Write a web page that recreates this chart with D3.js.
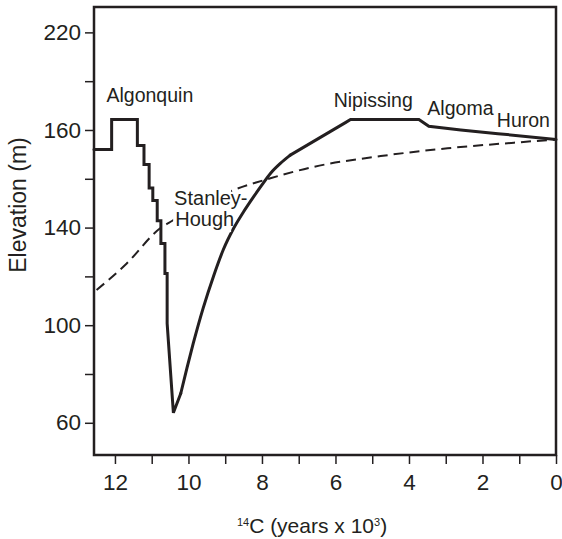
<!DOCTYPE html>
<html>
<head>
<meta charset="utf-8">
<script src="https://cdn.jsdelivr.net/npm/d3@7"></script>
<style>
  body { margin: 0; background: #fff; }
  svg text { font-family: "Liberation Sans", Arial, sans-serif; fill: #231f20; }
</style>
</head>
<body>
<div id="chart"></div>
<script>
const MARGIN = { top: 7, right: 6, bottom: 84, left: 94 };
const WIDTH = 562 - MARGIN.left - MARGIN.right;
const HEIGHT = 539 - MARGIN.top - MARGIN.bottom;
const INK = "#231f20";

// DATA (14C ka BP, elevation m)
const lakeLevelAge = [12.57, 12.09, 12.09, 11.39, 11.39, 11.21, 11.21, 11.07, 11.07, 10.97, 10.97,
  10.85, 10.85, 10.75, 10.75, 10.64, 10.64, 10.58, 10.58, 10.41, 10.21, 10.04, 9.87, 9.60, 9.32,
  9.05, 8.77, 8.50, 8.23, 8.02, 7.77, 7.50, 7.23, 5.73, 5.59, 3.73, 3.46, 2.59, 1.58, 0];
const lakeLevelElev = [172.0, 172.0, 184.3, 184.3, 173.6, 173.6, 165.9, 165.9, 156.2, 156.2, 151.1,
  151.1, 142.8, 142.8, 133.5, 133.5, 121.2, 121.2, 100.7, 64.1, 72.0, 82.5, 92.5, 107.0, 120.0,
  131.0, 139.7, 146.5, 152.6, 157.1, 162.2, 166.3, 169.7, 183.0, 184.3, 184.3, 181.5, 180.0, 178.5, 176.1];

const outletAge = [12.5, 11.68, 10.77, 10.45, 9.68, 8.77, 7.77, 6.59, 4.77, 2.95, 1.14, 0];
const outletElev = [114.4, 125.3, 139.7, 142.7, 149.2, 155.4, 160.2, 164.9, 169.3, 172.5, 174.8, 176.1];

const xTicks = d3.range(0, 13);
const yTicks = d3.range(60, 221, 20);
const yTickLabelValues = [220, 180, 140, 100, 60];
const yTickLabels = ["220", "160", "140", "100", "60"];

const stageNames = ["Algonquin", "Nipissing", "Algoma", "Huron"];
const stageAge = [12.23, 6.05, 3.50, 1.61];
const stageElev = [191.6, 189.4, 186.1, 181.3];

// CREATE SVG
let svg = d3.select("#chart")
  .append("svg")
  .attr("width", WIDTH + MARGIN.left + MARGIN.right)
  .attr("height", HEIGHT + MARGIN.top + MARGIN.bottom)
  .append("g")
  .attr("transform", `translate(${MARGIN.left}, ${MARGIN.top})`);

// SCALES
let xScale = d3.scaleLinear().domain([12.57, 0]).range([0, WIDTH]);
let yScale = d3.scaleLinear().domain([46.8, 230.4]).range([HEIGHT, 0]);

const lakeLevel = lakeLevelAge.map((a, i) => ({ age: a, elev: lakeLevelElev[i] }));
const outlet = outletAge.map((a, i) => ({ age: a, elev: outletElev[i] }));

// DASHED OUTLET CURVE
svg.append("path")
  .datum(outlet)
  .attr("fill", "none")
  .attr("stroke", INK)
  .attr("stroke-width", 2)
  .attr("stroke-dasharray", "10,6")
  .attr("d", d3.line().curve(d3.curveMonotoneX)
    .x(d => xScale(d.age)).y(d => yScale(d.elev)));

// STANLEY-HOUGH LABEL (white box hides the dashed line)
const sh = svg.append("g");
const shBox = sh.append("rect").attr("fill", "#fff");
sh.append("text")
  .attr("x", xScale(10.39)).attr("y", yScale(149.2))
  .style("font-size", "20px")
  .text("Stanley-");
sh.append("text")
  .attr("x", xScale(10.36)).attr("y", yScale(140.6))
  .style("font-size", "20px")
  .text("Hough");
const bb = sh.node().getBBox();
shBox.attr("x", bb.x - 1).attr("y", bb.y + 2)
  .attr("width", 58).attr("height", bb.height);

// SOLID LAKE LEVEL LINE: steps + drawdown straight, recovery smooth, Holocene straight
const riseStart = lakeLevelAge.indexOf(10.21);
const riseEnd = lakeLevelAge.indexOf(7.23);
const straight = d3.line().x(d => xScale(d.age)).y(d => yScale(d.elev));
const smooth = d3.line().curve(d3.curveMonotoneX).x(d => xScale(d.age)).y(d => yScale(d.elev));
const pieces = [
  { pts: lakeLevel.slice(0, riseStart + 1), gen: straight },
  { pts: lakeLevel.slice(riseStart, riseEnd + 1), gen: smooth },
  { pts: lakeLevel.slice(riseEnd), gen: straight }
];
svg.selectAll(".lake")
  .data(pieces)
  .enter()
  .append("path")
  .attr("class", "lake")
  .attr("fill", "none")
  .attr("stroke", INK)
  .attr("stroke-width", 3)
  .attr("stroke-linejoin", "miter")
  .attr("stroke-linecap", "round")
  .attr("d", d => d.gen(d.pts));

sh.raise();
shBox.lower();

// STAGE LABELS
svg.selectAll(".stage")
  .data(stageNames)
  .enter()
  .append("text")
  .attr("class", "stage")
  .attr("x", (d, i) => xScale(stageAge[i]))
  .attr("y", (d, i) => yScale(stageElev[i]))
  .style("font-size", "19.5px")
  .text(d => d);

// FRAME
svg.append("rect")
  .attr("width", WIDTH)
  .attr("height", HEIGHT)
  .attr("fill", "none")
  .attr("stroke", INK)
  .attr("stroke-width", 2.5);

// AXES
let xAxis = svg.append("g")
  .attr("transform", `translate(0, ${HEIGHT})`)
  .call(d3.axisBottom(xScale)
    .tickValues(xTicks)
    .tickFormat(d => (d % 2 === 0 ? d : ""))
    .tickSizeInner(9).tickSizeOuter(0).tickPadding(10));

let yAxis = svg.append("g")
  .call(d3.axisLeft(yScale)
    .tickValues(yTicks)
    .tickFormat(d => {
      const k = yTickLabelValues.indexOf(d);
      return k >= 0 ? yTickLabels[k] : "";
    })
    .tickSizeInner(9).tickSizeOuter(0).tickPadding(4));

[xAxis, yAxis].forEach(ax => {
  ax.select(".domain").remove();
  ax.selectAll(".tick line").attr("stroke", INK).attr("stroke-width", 1.5);
  ax.selectAll(".tick text")
    .style("font-size", "22.5px")
    .style("font-family", "'Liberation Sans', Arial, sans-serif")
    .attr("fill", INK);
});

// AXIS TITLES
svg.append("text")
  .attr("transform", `translate(${26 - MARGIN.left}, ${205 - MARGIN.top}) rotate(-90)`)
  .attr("text-anchor", "middle")
  .style("font-size", "23px")
  .text("Elevation (m)");

const xt = svg.append("text")
  .attr("x", 312 - MARGIN.left)
  .attr("y", 533 - MARGIN.top)
  .attr("text-anchor", "middle")
  .style("font-size", "21px");
xt.append("tspan").style("font-size", "11px").attr("dy", -7).text("14");
xt.append("tspan").attr("dy", 7).text("C (years x 10");
xt.append("tspan").style("font-size", "11px").attr("dy", -7).text("3");
xt.append("tspan").attr("dy", 7).text(")");
</script>
</body>
</html>
